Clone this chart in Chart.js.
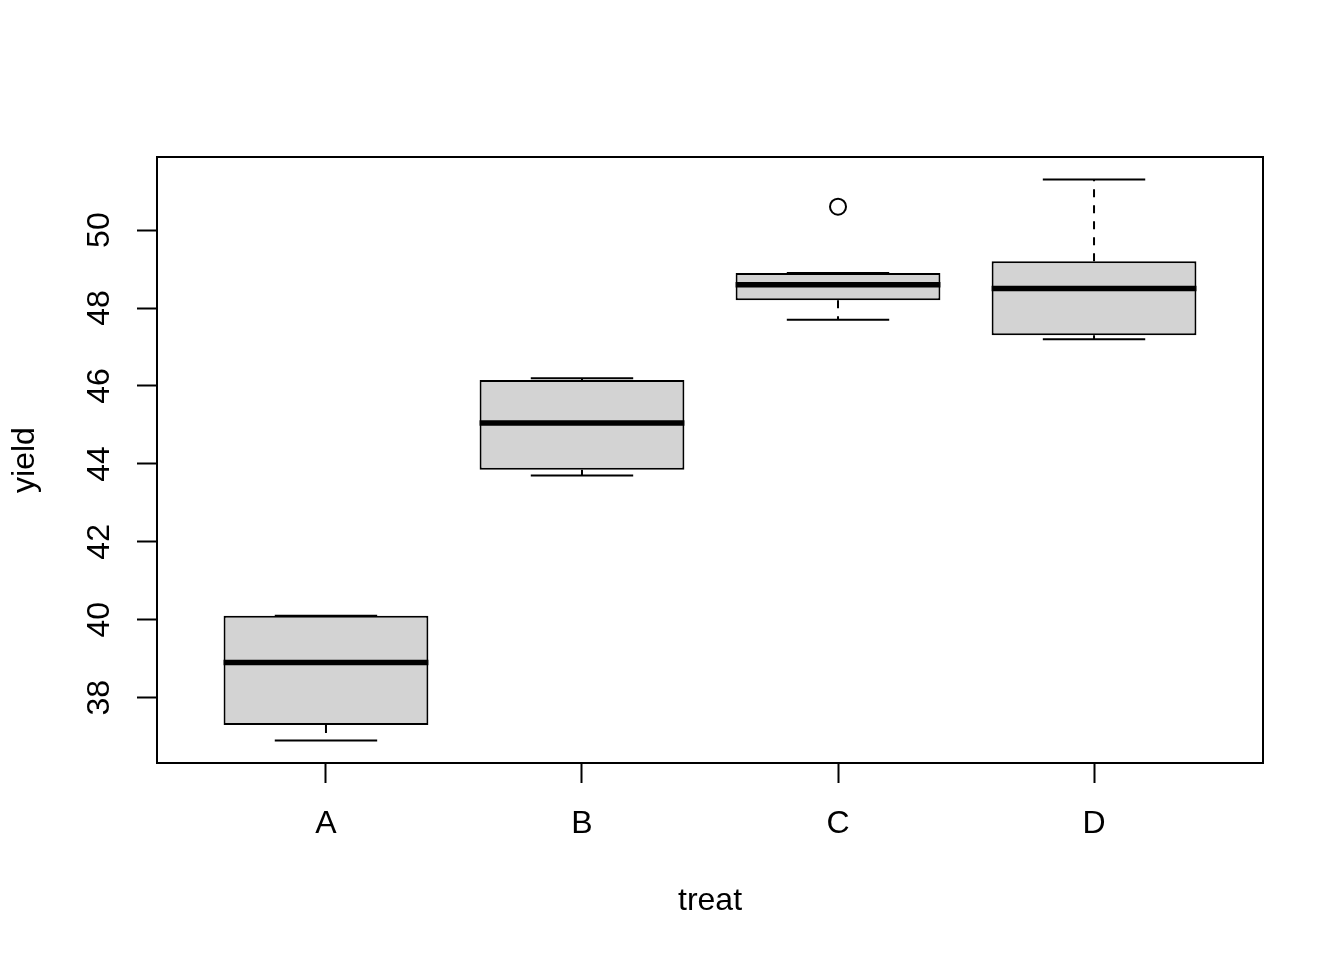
<!DOCTYPE html>
<html>
<head>
<meta charset="utf-8">
<script src="https://cdn.jsdelivr.net/npm/chart.js@4.4.1/dist/chart.umd.min.js"></script>
<style>
  html, body { margin: 0; padding: 0; background: #fff; }
</style>
</head>
<body>
<canvas id="chart" width="1344" height="960"></canvas>
<script>
// boxplot of yield by treat
var treats = ['A', 'B', 'C', 'D'];
var whiskerLow = [36.9, 43.7, 47.7, 47.2];
var lowerQuartile = [37.3, 43.85, 48.2, 47.3];
var medians = [38.9, 45.05, 48.6, 48.5];
var upperQuartile = [40.1, 46.15, 48.9, 49.2];
var whiskerHigh = [40.1, 46.2, 48.9, 51.3];
var outlierTreat = ['C'];
var outlierYield = [50.6];
var yTicks = [38, 40, 42, 44, 46, 48, 50];

var BOX_HALF = 0.4;
var CAP_HALF = 0.2;

var boxData = [];
var medianData = [];
var whiskerData = [];
var capData = [];
treats.forEach(function (t, i) {
    var x = i + 1;
    boxData.push({ x: x, y: [lowerQuartile[i], upperQuartile[i]] });
    medianData.push({ x: x - BOX_HALF, y: medians[i] }, { x: x + BOX_HALF, y: medians[i] }, { x: x + 0.5, y: null });
    whiskerData.push({ x: x, y: upperQuartile[i] }, { x: x, y: whiskerHigh[i] }, { x: x, y: null });
    whiskerData.push({ x: x, y: lowerQuartile[i] }, { x: x, y: whiskerLow[i] }, { x: x, y: null });
    capData.push({ x: x - CAP_HALF, y: whiskerHigh[i] }, { x: x + CAP_HALF, y: whiskerHigh[i] }, { x: x + 0.5, y: null });
    capData.push({ x: x - CAP_HALF, y: whiskerLow[i] }, { x: x + CAP_HALF, y: whiskerLow[i] }, { x: x + 0.5, y: null });
});
var outlierData = outlierYield.map(function (v, i) {
    return { x: treats.indexOf(outlierTreat[i]) + 1, y: v };
});

// R-like 4% extension of the data range
var allVals = whiskerLow.concat(whiskerHigh, outlierYield);
var dMin = Math.min.apply(null, allVals), dMax = Math.max.apply(null, allVals);
var ext = (dMax - dMin) * 0.04;

Chart.defaults.font.family = '"Liberation Sans", Arial, sans-serif';
Chart.defaults.font.size = 32;
Chart.defaults.color = '#000';

var framePlugin = {
    id: 'frame',
    afterDraw: function (chart) {
        var a = chart.chartArea, ctx = chart.ctx;
        ctx.save();
        ctx.strokeStyle = '#000';
        ctx.lineWidth = 2;
        ctx.strokeRect(a.left, a.top, a.right - a.left, a.bottom - a.top);
        ctx.restore();
    }
};

var ctx = document.getElementById('chart').getContext('2d');
var chart = new Chart(ctx, {
    type: 'bar',
    data: {
        datasets: [
            {
                type: 'line',
                data: medianData,
                borderColor: '#000',
                borderWidth: 5.5,
                borderCapStyle: 'butt',
                pointRadius: 0,
                spanGaps: false,
                order: 0
            },
            {
                type: 'bar',
                data: boxData,
                backgroundColor: '#d3d3d3',
                borderColor: '#000',
                borderWidth: 2,
                borderSkipped: false,
                barPercentage: 0.8,
                categoryPercentage: 1,
                order: 1
            },
            {
                type: 'line',
                data: whiskerData,
                borderColor: '#000',
                borderWidth: 2,
                borderDash: [8, 8],
                pointRadius: 0,
                spanGaps: false,
                order: 2
            },
            {
                type: 'line',
                data: capData,
                borderColor: '#000',
                borderWidth: 2,
                pointRadius: 0,
                spanGaps: false,
                order: 2
            },
            {
                type: 'line',
                data: outlierData,
                showLine: false,
                pointStyle: 'circle',
                pointRadius: 8,
                pointBorderWidth: 2,
                pointBorderColor: '#000',
                pointBackgroundColor: 'rgba(0,0,0,0)',
                order: 0
            }
        ]
    },
    options: {
        responsive: false,
        animation: false,
        layout: { padding: { top: 157, right: 81, left: 0, bottom: 0 } },
        plugins: {
            legend: { display: false },
            tooltip: { enabled: false }
        },
        scales: {
            x: {
                type: 'linear',
                offset: false,
                min: 0.5 - 4 * 0.04,
                max: treats.length + 0.5 + 4 * 0.04,
                afterBuildTicks: function (scale) {
                    scale.ticks = treats.map(function (t, i) { return { value: i + 1 }; });
                },
                afterFit: function (scale) { scale.height = 197; },
                border: { display: false },
                grid: {
                    display: true,
                    offset: false,
                    drawOnChartArea: false,
                    drawTicks: true,
                    tickLength: 20,
                    tickWidth: 2,
                    tickColor: '#000'
                },
                ticks: {
                    padding: 22,
                    maxRotation: 0,
                    autoSkip: false,
                    callback: function (v) { return treats[v - 1]; }
                },
                title: {
                    display: true,
                    text: 'treat',
                    padding: { top: 0, bottom: 40 }
                }
            },
            y: {
                type: 'linear',
                min: dMin - ext,
                max: dMax + ext,
                afterBuildTicks: function (scale) {
                    scale.ticks = yTicks.map(function (v) { return { value: v }; });
                },
                afterFit: function (scale) { scale.width = 157; },
                border: { display: false },
                grid: {
                    display: true,
                    drawOnChartArea: false,
                    drawTicks: true,
                    tickLength: 20,
                    tickWidth: 2,
                    tickColor: '#000'
                },
                ticks: {
                    padding: 19,
                    minRotation: 90,
                    maxRotation: 90,
                    crossAlign: 'center',
                    autoSkip: false,
                    callback: function (v) { return String(v); }
                },
                title: {
                    display: true,
                    text: 'yield',
                    padding: { top: 6, bottom: 0 }
                }
            }
        }
    },
    plugins: [framePlugin]
});
</script>
</body>
</html>
